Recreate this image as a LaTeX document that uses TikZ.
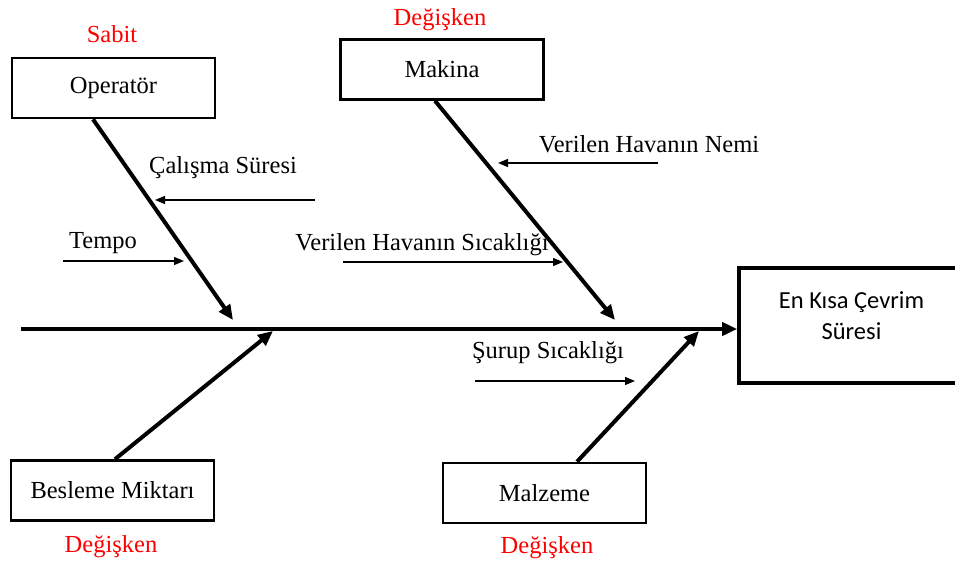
\documentclass[tikz,border=0pt]{standalone}
\usepackage{fontspec}
\setmainfont{Liberation Serif}
\newfontfamily\calfont{Carlito}
\usetikzlibrary{arrows.meta}
\begin{document}
\begin{tikzpicture}[x=1pt,y=-1pt,font=\fontsize{24.5}{31}\selectfont,
  box/.style={draw,line width=2.6pt,minimum width=203pt,minimum height=60pt,inner sep=0pt},
  bone/.style={line width=4pt,-{Triangle[length=15pt,width=13pt]}},
  cause/.style={line width=1.3pt,-{Triangle[length=10pt,width=8pt]}},
  tag/.style={red,anchor=base},
  txt/.style={anchor=base}]
\clip (0,0) rectangle (955,562);
\node[box] (op) at (113.5,88) {Operatör};
\node[box] (mak) at (442,69.5) {Makina};
\node[box] (bes) at (112.5,490.5) {Besleme Miktarı};
\node[box] (malz) at (544.5,493) {Malzeme};
\node[box,line width=3.6pt,minimum width=225pt,minimum height=115pt] (res) at (851.5,325.5) {};
\node[font=\calfont\fontsize{24.5}{31}\selectfont,align=center] (resT) at (851.5,316) {En Kısa Çevrim\\Süresi};
\node[tag] (sabit) at (112,42) {Sabit};
\node[tag] (dg1) at (440,25) {Değişken};
\node[tag] (dg2) at (111,552) {Değişken};
\node[tag] (dg3) at (547,553) {Değişken};
\node[txt] (cal) at (223,173) {Çalışma Süresi};
\node[txt] (tem) at (103,248) {Tempo};
\node[txt] (nem) at (649,152) {Verilen Havanın Nemi};
\node[txt] (sic) at (422,250) {Verilen Havanın Sıcaklığı};
\node[txt] (sur) at (548,358) {Şurup Sıcaklığı};
\coordinate (sp) at (21,329);
\coordinate (opT) at (233,320);
\coordinate (makT) at (615,320);
\coordinate (besT) at (273,331);
\coordinate (malzT) at (699,331);
\draw[line width=4pt,-{Triangle[length=15pt,width=13pt]}] (sp) -- (res.west |- sp);
\draw[bone] ([xshift=-20.5pt]op.south) -- (opT);
\draw[bone] ([xshift=-7pt]mak.south) -- (makT);
\draw[bone] ([xshift=2.5pt]bes.north) -- (besT);
\draw[bone] ([xshift=32.5pt]malz.north) -- (malzT);
\coordinate (calS) at (315,200); \coordinate (calE) at (155,200);
\coordinate (temS) at (63,261); \coordinate (temE) at (184,261);
\coordinate (nemS) at (658,163); \coordinate (nemE) at (498,163);
\coordinate (sicS) at (343,262); \coordinate (sicE) at (563,262);
\coordinate (surS) at (475,381); \coordinate (surE) at (635,381);
\draw[cause] (calS) -- (calE);
\draw[cause] (temS) -- (temE);
\draw[cause] (nemS) -- (nemE);
\draw[cause] (sicS) -- (sicE);
\draw[cause] (surS) -- (surE);
\end{tikzpicture}
\end{document}
